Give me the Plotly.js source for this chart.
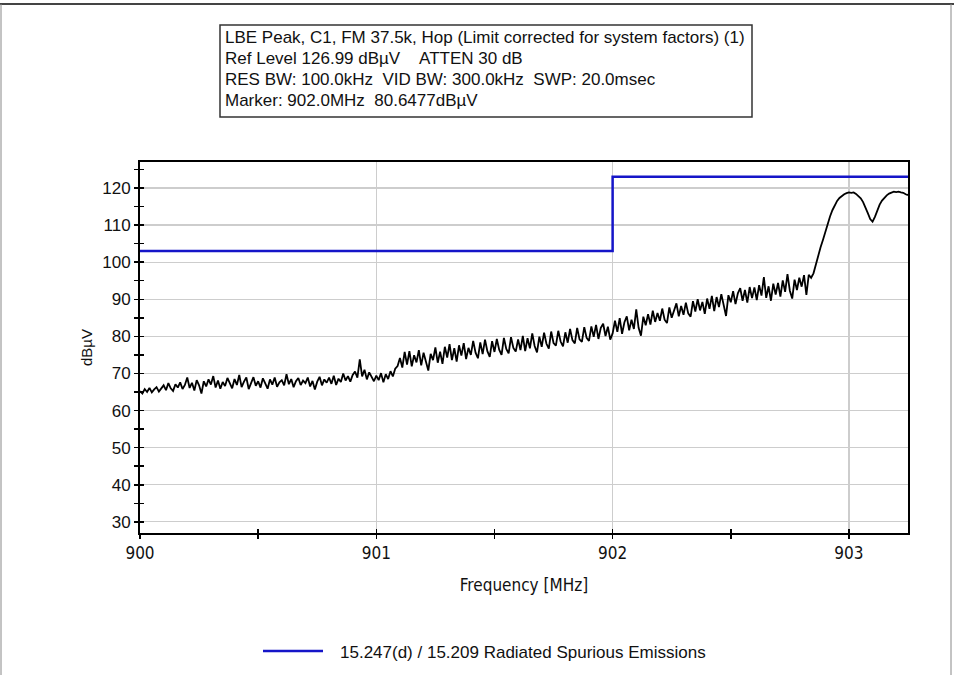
<!DOCTYPE html>
<html>
<head>
<meta charset="utf-8">
<script src="https://cdn.plot.ly/plotly-3.0.1.min.js"></script>
<style>html,body{margin:0;padding:0;background:#fff;}#chart{width:954px;height:675px;}</style>
</head>
<body>
<div id="chart"></div>
<script>
// Spectrum sweep: uniform frequency grid (MHz) and measured level (dBµV)
const freqStartMHz = 900.0;
const freqStepMHz = 0.01;
const levelDbuV = [
  65.2, 64.6, 65.8, 65.0, 66.1, 64.9, 65.7, 66.3, 65.1, 66.0,
  66.8, 65.5, 67.4, 66.0, 65.3, 67.1, 66.2, 67.6, 65.8, 66.9,
  68.9, 66.1, 67.5, 65.4, 68.2, 66.8, 64.6, 67.9, 66.5, 68.4,
  67.0, 69.3, 66.2, 68.1, 65.9, 67.7, 66.6, 68.8, 67.2, 66.0,
  68.5, 66.9, 69.6, 66.3, 67.8, 68.9, 65.8, 67.4, 69.0, 66.7,
  67.9, 66.2, 68.7, 67.3, 65.9, 68.4, 67.0, 68.9, 66.4, 67.6,
  68.2, 66.8, 69.8, 67.1, 68.5, 66.3, 67.9, 68.8, 66.9, 68.1,
  67.4, 68.9, 66.5, 68.0, 65.7, 67.8, 69.1, 66.8, 68.4, 67.5,
  68.9, 67.2, 69.4, 66.9, 68.6, 67.7, 70.0, 68.1, 69.3, 67.8,
  69.6, 70.5, 68.9, 73.8, 69.2, 71.0, 68.4, 70.3, 69.0, 67.9,
  69.4, 68.2, 70.1, 67.6, 69.8, 68.5, 70.6, 69.2, 71.3, 72.0,
  74.2, 71.6, 75.8, 72.4, 76.0, 71.9, 74.9, 73.0, 76.3, 72.2,
  75.6, 72.8, 70.8, 75.3, 73.6, 77.0, 72.9, 75.9, 72.6, 77.2,
  74.3, 77.9, 73.6, 76.8, 73.2, 77.6, 74.8, 78.2, 73.9, 76.9,
  75.0, 78.8, 75.6, 74.1, 78.4, 75.2, 79.1, 76.0, 74.5, 78.7,
  75.8, 79.3, 76.4, 75.0, 79.6, 76.6, 75.4, 79.8, 76.9, 75.9,
  79.2, 76.3, 80.1, 76.0, 79.5, 76.8, 80.8, 77.4, 75.7, 79.9,
  77.2, 81.0, 78.0, 76.7, 81.3, 78.2, 77.5, 81.5, 78.6, 77.3,
  81.1, 78.3, 82.0, 79.0, 78.1, 82.3, 79.2, 78.5, 82.5, 79.6,
  78.8, 82.7, 79.9, 83.1, 79.3, 82.3, 83.4, 80.1, 82.6, 79.1,
  80.8, 84.2, 81.2, 84.9, 80.7, 83.8, 85.4, 81.6, 84.5, 82.0,
  87.3, 82.3, 80.2, 85.3, 83.0, 86.0, 83.2, 86.9, 83.9, 86.3,
  84.2, 87.5, 84.5, 83.6, 87.8, 85.0, 87.3, 88.9, 85.4, 88.2,
  85.8, 89.1, 86.2, 85.3, 89.5, 86.7, 90.0, 87.0, 89.3, 86.1,
  90.2, 87.4, 90.9, 86.8, 90.6, 87.9, 91.4, 88.3, 85.5, 91.1,
  89.2, 92.2, 88.7, 91.6, 93.0, 89.6, 92.5, 89.1, 93.3, 90.3,
  93.2, 89.8, 93.8, 91.0, 96.0, 90.4, 93.5, 89.6, 94.2, 91.3,
  94.4, 90.7, 95.1, 92.0, 96.8, 92.3, 90.2, 95.3, 92.5, 95.8,
  93.4, 96.5, 91.2, 96.6, 95.8,
  97.0, 99.5, 101.8, 104.0, 106.0,
  108.2, 110.3, 112.3, 114.0, 115.4, 116.5, 117.3, 117.9, 118.3, 118.6,
  118.8, 118.7, 118.8, 118.4, 117.9, 117.2, 116.2, 114.9, 113.2, 111.6,
  110.9, 112.2, 114.0, 115.5, 116.6, 117.4, 118.0, 118.5, 118.8, 119.0,
  118.9, 119.0, 118.8, 118.7, 118.3, 118.1
];
const freqMHz = levelDbuV.map((_, i) => +(freqStartMHz + i * freqStepMHz).toFixed(2));

// Limit line
const limitFreqMHz = [900, 902, 902, 903.25];
const limitDbuV = [103, 103, 123, 123];
const limitName = '15.247(d) / 15.209 Radiated Spurious Emissions';
const limitColor = '#1515c8';

const infoLines = [
  'LBE Peak, C1, FM 37.5k, Hop (Limit corrected for system factors) (1)',
  'Ref Level 126.99 dBµV\u00a0\u00a0\u00a0\u00a0ATTEN 30 dB',
  'RES BW: 100.0kHz\u00a0\u00a0VID BW: 300.0kHz\u00a0\u00a0SWP: 20.0msec',
  'Marker: 902.0MHz\u00a0\u00a080.6477dBµV'
];

const xTickVals = [900, 901, 902, 903];
const yTickVals = [30, 40, 50, 60, 70, 80, 90, 100, 110, 120];

// layout geometry helpers (pixel -> paper)
const L = 140, R = 46, T = 162, B = 142, W = 954, H = 675;
const pw = W - L - R, ph = H - T - B;
const px = p => (p - L) / pw;
const py = q => (H - B - q) / ph;

const narrow = 'Liberation Sans Narrow, Arial Narrow, DejaVu Sans Condensed, sans-serif';
const arial = 'Arial, Liberation Sans, sans-serif';

const traces = [
  {
    x: freqMHz, y: levelDbuV, type: 'scatter', mode: 'lines',
    line: {color: '#000000', width: 1.8}, showlegend: false, hoverinfo: 'skip'
  },
  {
    x: limitFreqMHz, y: limitDbuV, type: 'scatter', mode: 'lines',
    name: limitName, line: {color: limitColor, width: 2.5}, showlegend: false
  },
  // overlay axes to get ticks crossing the axis lines
  {x: [900], y: [50], xaxis: 'x2', yaxis: 'y2', mode: 'markers', marker: {opacity: 0}, showlegend: false, hoverinfo: 'skip'}
];

const commonAxisX = {
  range: [900, 903.25], showline: true, linecolor: '#000', linewidth: 2,
  tickmode: 'array', tickvals: xTickVals, ticklen: 4, tickwidth: 1.5, tickcolor: '#000',
  minor: {dtick: 0.5, tick0: 900, ticklen: 4, tickwidth: 1.5, tickcolor: '#000', ticks: 'outside', showgrid: false},
  zeroline: false
};
const commonAxisY = {
  range: [27, 127], showline: true, linecolor: '#000', linewidth: 2,
  tickmode: 'array', tickvals: yTickVals, ticklen: 4, tickwidth: 1.5, tickcolor: '#000',
  minor: {dtick: 5, tick0: 0, ticklen: 4, tickwidth: 1.5, tickcolor: '#000', ticks: 'outside', showgrid: false},
  zeroline: false
};

const layout = {
  width: W, height: H,
  margin: {l: L, r: R, t: T, b: B, pad: 0},
  paper_bgcolor: '#fff', plot_bgcolor: '#fff',
  showlegend: false,
  xaxis: Object.assign({}, commonAxisX, {
    ticks: 'outside', mirror: true, showgrid: true, gridcolor: '#cdcdcd', gridwidth: 1.2,
    tickfont: {family: narrow, size: 17, color: '#111'},
    title: {text: 'Frequency [MHz]', font: {family: narrow, size: 17, color: '#111'}, standoff: 17}
  }),
  yaxis: Object.assign({}, commonAxisY, {
    ticks: 'outside', mirror: true, showgrid: true, gridcolor: '#cdcdcd', gridwidth: 1.2,
    tickfont: {family: arial, size: 17, color: '#111'},
    title: {text: 'dBµV', font: {family: arial, size: 15, color: '#111'}, standoff: 6}
  }),
  xaxis2: Object.assign({}, commonAxisX, {
    overlaying: 'x', matches: 'x', ticks: 'inside', showticklabels: false, showgrid: false,
    showline: false,
    minor: {dtick: 0.5, tick0: 900, ticklen: 4, tickwidth: 1.5, tickcolor: '#000', ticks: 'inside', showgrid: false}
  }),
  yaxis2: Object.assign({}, commonAxisY, {
    overlaying: 'y', matches: 'y', ticks: 'inside', showticklabels: false, showgrid: false,
    showline: false,
    minor: {dtick: 5, tick0: 0, ticklen: 4, tickwidth: 1.5, tickcolor: '#000', ticks: 'inside', showgrid: false}
  }),
  shapes: [
    {type: 'rect', xref: 'paper', yref: 'paper', x0: px(220), x1: px(752), y0: py(117), y1: py(25),
     line: {color: '#333', width: 1.5}, fillcolor: 'rgba(0,0,0,0)'},
    {type: 'line', xref: 'paper', yref: 'paper', x0: px(0), x1: px(954), y0: py(4), y1: py(4),
     line: {color: '#444', width: 2}},
    {type: 'line', xref: 'paper', yref: 'paper', x0: px(1), x1: px(1), y0: py(4), y1: py(675),
     line: {color: '#888', width: 1}},
    {type: 'line', xref: 'paper', yref: 'paper', x0: px(951), x1: px(951), y0: py(4), y1: py(675),
     line: {color: '#888', width: 1}},
    // legend sample line
    {type: 'line', xref: 'paper', yref: 'paper', x0: px(263), x1: px(323), y0: py(651), y1: py(651),
     line: {color: limitColor, width: 2.5}}
  ],
  annotations: infoLines.map((t, i) => ({
    text: t, xref: 'paper', yref: 'paper', x: px(223), y: py([37, 58, 80, 101][i]),
    xanchor: 'left', yanchor: 'middle', showarrow: false, align: 'left',
    font: {family: arial, size: 17, color: '#111'}
  })).concat([{
    text: limitName, xref: 'paper', yref: 'paper', x: px(338), y: py(652),
    xanchor: 'left', yanchor: 'middle', showarrow: false, align: 'left',
    font: {family: arial, size: 17, color: '#111'}
  }])
};

Plotly.newPlot('chart', traces, layout, {displayModeBar: false, staticPlot: true});
</script>
</body>
</html>
